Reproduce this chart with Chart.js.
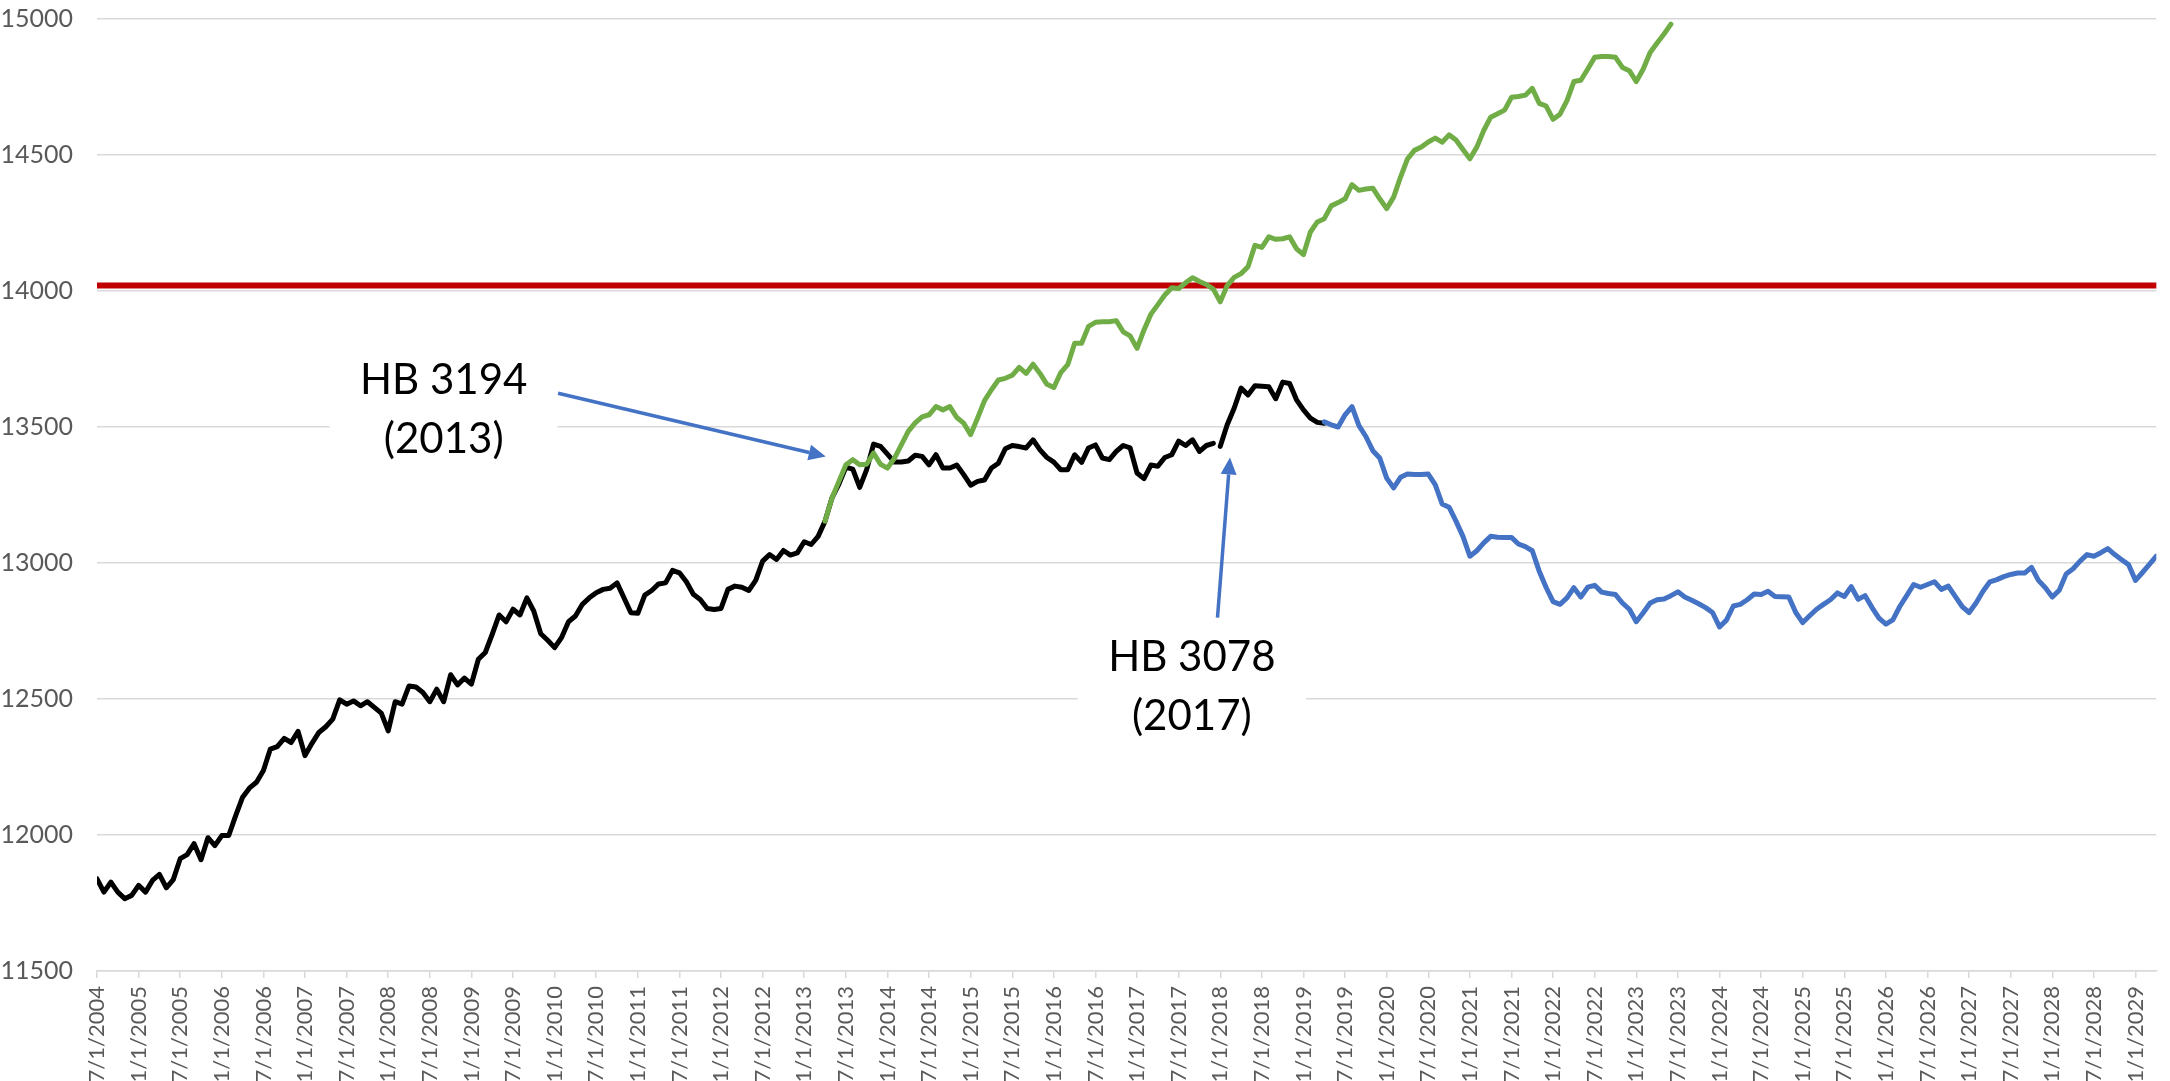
<!DOCTYPE html>
<html>
<head>
<meta charset="utf-8">
<script src="https://cdn.jsdelivr.net/npm/chart.js@4.4.1/dist/chart.umd.min.js"></script>
<style>
  html, body { margin: 0; padding: 0; background: #fff; overflow: hidden; }
  #enrollChart { position: absolute; left: 0; top: -20px; }
</style>
</head>
<body>
<canvas id="enrollChart" width="2170" height="1101"></canvas>
<script>
// x values are month numbers: 0 = 7/1/2004, 1 = 8/1/2004, ...
var firstYear = 2004, firstMonth = 7;
var lastMonthIndex = 297;
var monthStep = 6;
var yMin = 11500, yMax = 15000, yStep = 500;

// actual, up to 12/2017
var actualStart = 0;
var actual = [
    11839,11790,11827,11790,11766,11778,11815,11790,11833,11855,11806,11836,
    11913,11928,11968,11909,11990,11961,11998,11998,12071,12139,12173,12194,
    12237,12316,12325,12355,12340,12381,12292,12337,12377,12398,12426,12497,
    12481,12493,12475,12490,12469,12448,12383,12490,12481,12548,12544,12524,
    12490,12536,12490,12589,12552,12577,12555,12646,12671,12738,12809,12784,
    12830,12809,12872,12823,12740,12716,12689,12726,12784,12805,12848,12872,
    12891,12903,12907,12927,12872,12817,12815,12882,12899,12923,12927,12973,
    12964,12931,12885,12866,12833,12829,12833,12903,12915,12911,12899,12936,
    13007,13031,13013,13046,13029,13037,13078,13068,13098,13154,13239,13290,
    13352,13345,13278,13343,13437,13429,13400,13371,13371,13375,13396,13392,
    13361,13398,13349,13349,13360,13325,13286,13300,13305,13349,13367,13420,
    13432,13428,13423,13453,13416,13388,13371,13343,13343,13398,13370,13423,
    13434,13386,13380,13410,13432,13423,13331,13310,13360,13356,13388,13398,
    13448,13432,13453,13410,13432,13440
];

// actual after HB 3078
var actual2Start = 162;
var actual2 = [
    13429,13508,13569,13643,13618,13652,13650,13648,13604,13665,13660,13600,
    13563,13533,13517,13514
];

// trend without HB 3194
var noLawStart = 105;
var noLaw = [
    13154,13239,13300,13361,13380,13361,13363,13404,13363,13349,13385,13434,
    13484,13515,13537,13545,13575,13563,13575,13535,13514,13472,13533,13597,
    13637,13673,13679,13690,13719,13697,13731,13697,13657,13645,13700,13729,
    13808,13808,13870,13885,13887,13887,13891,13850,13835,13789,13857,13915,
    13950,13985,14012,14009,14030,14049,14035,14024,14007,13960,14020,14050,
    14064,14089,14168,14160,14199,14190,14192,14199,14155,14134,14217,14254,
    14266,14313,14325,14339,14391,14370,14375,14378,14339,14303,14345,14419,
    14486,14517,14529,14548,14562,14547,14574,14555,14520,14486,14529,14590,
    14639,14652,14665,14712,14715,14720,14745,14690,14680,14631,14650,14700,
    14770,14775,14816,14859,14862,14862,14859,14822,14810,14770,14816,14877,
    14912,14945,14981
];

// forecast
var forecastStart = 177;
var forecast = [
    13519,13508,13500,13545,13575,13505,13465,13413,13386,13312,13276,13315,
    13327,13325,13325,13327,13288,13217,13205,13154,13098,13025,13045,13074,
    13098,13095,13094,13094,13070,13060,13045,12970,12910,12858,12848,12872,
    12909,12875,12911,12918,12893,12888,12884,12853,12830,12784,12817,12853,
    12865,12868,12880,12894,12875,12863,12850,12836,12818,12765,12790,12842,
    12848,12865,12886,12884,12896,12877,12876,12875,12818,12781,12806,12830,
    12848,12865,12890,12877,12913,12867,12880,12836,12797,12775,12791,12840,
    12880,12921,12911,12921,12931,12903,12915,12877,12840,12818,12853,12896,
    12931,12939,12950,12958,12963,12963,12984,12936,12909,12875,12900,12960,
    12979,13007,13031,13025,13038,13053,13031,13012,12994,12936,12965,12995,
    13025
];

var capValue = 14020;

// text boxes and arrows, placed in data units
var notes = [
    {lines: ['HB 3194', '(2013)'], x: 50, y: [13671, 13454], from: [66.5, 13624], to: [105.1, 13392]},
    {lines: ['HB 3078', '(2017)'], x: 157.9, y: [12652, 12435], from: [161.6, 12799], to: [163.4, 13388]}
];

function toPoints(start, vals) {
    return vals.map(function(v, i) { return {x: start + i, y: v}; });
}

function monthLabel(v) {
    var m = firstMonth - 1 + v;
    return ((m % 12) + 1) + '/1/' + (firstYear + Math.floor(m / 12));
}

var notesPlugin = {
    id: 'notes',
    afterDatasetsDraw: function(chart) {
        var ctx = chart.ctx, xs = chart.scales.x, ys = chart.scales.y;
        ctx.save();
        notes.forEach(function(n) {
            var cx = xs.getPixelForValue(n.x);
            var y1 = ys.getPixelForValue(n.y[0]);
            var y2 = ys.getPixelForValue(n.y[1]);
            ctx.fillStyle = '#ffffff';
            ctx.fillRect(cx - 114, y1 - 35, 228, (y2 - y1) + 70);
            ctx.fillStyle = '#000000';
            ctx.font = '42px Lato';
            ctx.textAlign = 'center';
            ctx.textBaseline = 'middle';
            ctx.fillText(n.lines[0], cx, y1);
            ctx.fillText(n.lines[1], cx, y2);

            // arrow
            var x0 = xs.getPixelForValue(n.from[0]), y0 = ys.getPixelForValue(n.from[1]);
            var x1 = xs.getPixelForValue(n.to[0]), yy1 = ys.getPixelForValue(n.to[1]);
            var ang = Math.atan2(yy1 - y0, x1 - x0);
            var head = 17, half = 8;
            var bx = x1 - head * Math.cos(ang), by = yy1 - head * Math.sin(ang);
            ctx.strokeStyle = '#4472C4';
            ctx.fillStyle = '#4472C4';
            ctx.lineWidth = 3.5;
            ctx.beginPath();
            ctx.moveTo(x0, y0);
            ctx.lineTo(bx, by);
            ctx.stroke();
            ctx.beginPath();
            ctx.moveTo(x1, yy1);
            ctx.lineTo(bx + half * Math.sin(ang), by - half * Math.cos(ang));
            ctx.lineTo(bx - half * Math.sin(ang), by + half * Math.cos(ang));
            ctx.closePath();
            ctx.fill();
        });
        ctx.restore();
    }
};

var lineStyle = {
    pointRadius: 0,
    pointHoverRadius: 0,
    borderWidth: 5,
    tension: 0,
    fill: false,
    borderJoinStyle: 'round',
    borderCapStyle: 'round'
};

var ctx = document.getElementById('enrollChart').getContext('2d');
var chart = new Chart(ctx, {
    type: 'line',
    data: {
        datasets: [
            Object.assign({label: 'Forecast', data: toPoints(forecastStart, forecast), borderColor: '#4472C4', order: 1}, lineStyle),
            Object.assign({label: 'Without HB 3194', data: toPoints(noLawStart, noLaw), borderColor: '#70AD47', order: 2}, lineStyle),
            Object.assign({label: 'Actual', data: toPoints(actualStart, actual), borderColor: '#000000', order: 3}, lineStyle),
            Object.assign({label: 'Actual after HB 3078', data: toPoints(actual2Start, actual2), borderColor: '#000000', order: 3}, lineStyle),
            Object.assign({label: 'Cap', data: [{x: 0, y: capValue}, {x: lastMonthIndex, y: capValue}], borderColor: '#C00000', order: 4}, lineStyle, {borderWidth: 6})
        ]
    },
    options: {
        responsive: false,
        animation: false,
        layout: { padding: { top: 0, right: 8, left: 0, bottom: 0 } },
        plugins: {
            legend: { display: false },
            tooltip: { enabled: false }
        },
        scales: {
            x: {
                type: 'linear',
                min: 0,
                max: lastMonthIndex,
                grid: { display: true, drawOnChartArea: false, drawTicks: true, tickLength: 7, color: '#D9D9D9', lineWidth: 1.5 },
                border: { display: true, color: '#D9D9D9', width: 1.5 },
                ticks: {
                    stepSize: monthStep,
                    includeBounds: false,
                    autoSkip: false,
                    maxRotation: 90,
                    minRotation: 90,
                    padding: 8,
                    color: '#595959',
                    font: { family: 'Lato', size: 22 },
                    callback: function(v) { return monthLabel(v); }
                },
                afterFit: function(s) { s.height = 110; }
            },
            y: {
                min: yMin,
                max: yMax,
                grid: { color: '#D9D9D9', lineWidth: 1.5, drawTicks: false },
                border: { display: false },
                ticks: {
                    stepSize: yStep,
                    padding: 24,
                    color: '#595959',
                    font: { family: 'Lato', size: 25 },
                    callback: function(v) { return String(v); }
                },
                afterFit: function(s) { s.width = 97; }
            }
        }
    },
    plugins: [notesPlugin]
});
</script>
</body>
</html>
